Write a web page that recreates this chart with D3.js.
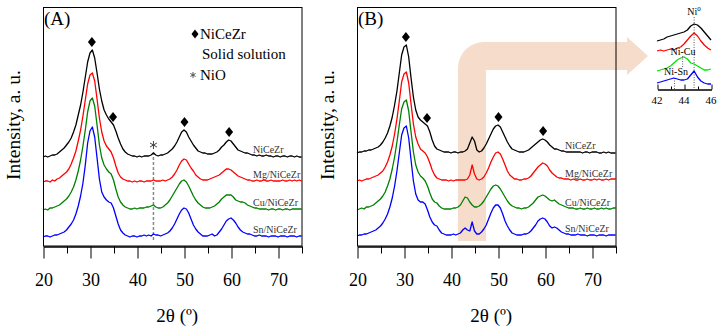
<!DOCTYPE html>
<html lang="en">
<head>
<meta charset="UTF-8">
<title>XRD patterns</title>
<style>
  body { margin: 0; background: #fff; }
  svg { font-family: "Liberation Serif", "Times New Roman", serif; }
  .curve { fill: none; stroke-width: 1.3; stroke-linejoin: round; }
  .frame { fill: none; stroke: #000; stroke-width: 1; }
  .axis path, .axis line { stroke: #000; }
  .axis text { font-family: "Liberation Serif", "Times New Roman", serif; font-size: 18px; fill: #000; }
</style>
</head>
<body>
<div id="chart"></div>
<script src="https://d3js.org/d3.v7.min.js"></script>
<script>
// 2theta sampling of the patterns (20..75, step 0.5)
var twoTheta = d3.range(0, 111).map(function (i) { return 20 + i * 0.5; });

var samples = ["NiCeZr", "Mg/NiCeZr", "Cu/NiCeZr", "Sn/NiCeZr"];
var colors = ["#000000", "#ff0000", "#008000", "#0000ff"];

// stacking offsets (a.u.)
var offsetsA = [89, 64, 36, 9];
var offsetsB = [93, 65, 36, 10];

// (A) fresh catalysts
var niCeZrA = [0,1,0,1,2,2,3,5,7,9, 12,15,19,25,32,42,52,65,80,95, 104,107,99,84,68,56,47,42,38,35,
  32,26,19,13,8,5,3,2,1,1, 0,1,0,1,1,1,2,4,2,1, 2,2,3,4,6,8,11,15,20,25, 27,25,20,16,12,9,6,5,4,4,
  3,3,3,4,5,7,10,12,15,17, 16,13,10,7,6,5,4,4,3,2, 2,1,2,1,1,2,1,1,0,1, 1,0,1,1,0,1,1,0,1,0, 0];
var mgA = [0,1,1,0,2,1,3,4,6,8, 10,13,18,24,31,41,52,66,82,98, 107,109,101,83,64,50,41,36,33,30,
  24,16,9,5,3,2,1,1,0,1, 0,1,1,0,1,1,1,2,1,1, 1,2,1,2,3,5,8,12,17,21, 23,22,18,14,11,7,5,3,2,2,
  2,3,4,5,6,7,9,11,13,13, 12,10,8,6,5,4,3,2,2,1, 1,2,1,1,2,1,1,2,1,1, 1,1,2,1,1,2,1,2,1,2, 1];
var cuA = [0,1,0,2,2,3,4,5,7,9, 11,14,18,23,30,39,50,64,80,98, 109,112,104,85,65,52,45,41,38,36,
  30,21,13,8,5,3,2,1,1,2, 1,2,2,2,3,3,4,5,3,2, 2,3,5,7,10,14,18,22,26,29, 30,28,24,19,14,10,7,5,3,2,
  2,2,3,4,6,8,11,13,15,15, 15,13,10,9,8,8,7,5,4,3, 2,2,1,1,1,1,0,1,1,0, 1,1,0,1,1,0,1,1,1,1, 1];
var snA = [0,1,1,0,1,2,2,3,4,5, 7,10,13,17,23,31,41,54,72,94, 106,110,100,79,58,45,40,37,35,34,
  29,21,13,7,4,2,1,0,1,1, 0,1,1,2,1,2,1,3,2,2, 1,2,3,4,6,9,13,18,23,27, 29,28,24,18,12,8,5,3,1,1,
  1,2,3,1,2,5,8,12,16,18, 19,17,14,10,7,5,4,3,3,2, 1,1,2,1,1,1,0,1,1,1, 0,1,1,1,0,1,1,1,0,1, 1];

// (B) reduced catalysts
var niCeZrB = [0,1,1,2,2,3,3,4,5,6, 8,11,15,20,27,36,48,62,80,98, 106,108,96,75,56,43,36,33,31,29,
  27,21,13,7,4,3,2,1,1,1, 0,1,1,0,1,1,2,4,10,16, 12,3,1,2,5,9,14,19,24,27, 28,26,21,16,11,7,4,3,2,1,
  1,1,2,3,5,7,9,11,13,14, 13,11,8,6,4,4,3,2,2,1, 1,1,1,1,1,1,0,1,1,0, 1,1,1,0,0,1,0,1,0,0, 0];
var mgB = [0,1,0,1,2,2,3,4,5,6, 8,10,14,19,26,35,47,62,80,99, 107,109,98,77,57,44,37,32,30,28,
  24,18,11,6,3,2,1,1,1,0, 1,0,1,1,1,1,1,2,6,16, 7,2,1,2,4,8,13,19,24,28, 29,27,22,16,10,6,4,2,2,1,
  1,2,2,3,5,8,11,14,16,18, 17,15,11,8,6,4,3,3,2,2, 2,1,2,1,1,2,1,1,2,1, 1,2,1,2,1,1,2,1,2,2, 2];
var cuB = [0,1,2,1,3,3,4,5,7,9, 11,14,18,24,31,41,53,68,85,101, 108,110,99,78,58,45,38,34,32,29,
  24,17,11,8,7,4,2,1,1,1, 1,2,2,3,5,9,13,12,8,5, 3,3,4,6,9,13,17,21,24,25, 24,21,17,13,9,6,4,3,2,2,
  1,2,2,3,5,7,10,13,14,15, 14,12,10,9,10,8,6,5,4,3, 2,2,2,1,1,2,1,1,2,1, 1,2,1,1,2,1,2,1,1,2, 2];
var snB = [0,1,1,2,2,3,4,5,6,8, 10,13,17,22,29,38,50,65,83,101, 108,110,98,76,55,42,36,34,34,32,
  26,19,14,11,10,6,3,2,1,1, 1,2,1,2,3,6,8,6,5,14, 5,2,2,4,7,11,17,23,28,31, 31,28,22,15,10,6,3,2,1,1,
  1,2,2,3,5,8,11,15,17,18, 17,14,10,8,9,8,6,4,3,2, 2,1,1,1,2,1,1,1,0,1, 1,1,0,1,1,1,0,1,1,1, 1];

// inset: zoom on 42-46 degrees of (B)
var insetTheta = [42,42.25,42.5,42.75,43,43.25,43.5,43.75,44,44.25,44.5,44.75,45,45.25,45.5,45.75,46];
var insetOffsets = [48, 38, 18, 5];
var insetColors = ["#000000", "#ff0000", "#00e600", "#0000ff"];
var insetSeries = [
  [0,1,2,4,5,6,7,8,9,11,15,17,16,13,9,5,1],
  [0,1,0,1,2,1,3,4,7,11,15,18,15,10,6,3,1],
  [0,1,2,3,5,8,11,13,14,12,8,7,5,3,1,1,2],
  [1,2,3,4,5,6,5,4,4,5,9,13,7,3,1,0,0]
];

// crystalline phase marks
var solidSolutionPeaks = [30.4, 34.9, 50.1, 59.6];
var nioPeak = 43.5;
var xTicks = [20, 30, 40, 50, 60, 70];
var xMinorTicks = [25, 35, 45, 55, 65, 75];

var svg = d3.select("#chart").append("svg")
  .attr("width", 721)
  .attr("height", 330);

var y = d3.scaleLinear().domain([0, 239]).range([246, 7]);

function star(cx, cy, r) {
  var p = "";
  [90, 30, 150].forEach(function (a) {
    var dx = r * Math.cos(a * Math.PI / 180), dy = r * Math.sin(a * Math.PI / 180);
    p += "M" + (cx - dx) + "," + (cy - dy) + "L" + (cx + dx) + "," + (cy + dy);
  });
  return p;
}

function diamond(cx, cy, w, h) {
  return "M" + cx + "," + (cy - h) + "L" + (cx + w) + "," + cy + "L" + cx + "," + (cy + h) + "L" + (cx - w) + "," + cy + "Z";
}

function drawPanel(opt) {
  var x = d3.scaleLinear().domain([20, 75]).range(opt.range);
  var g = svg.append("g");

  if (opt.before) opt.before(g, x);

  var line = function (off) {
    return d3.line()
      .x(function (d, i) { return x(twoTheta[i]); })
      .y(function (d) { return y(d + off); });
  };

  opt.series.forEach(function (s, k) {
    g.append("path")
      .attr("class", "curve")
      .attr("stroke", colors[k])
      .attr("d", line(opt.offsets[k])(s));
    g.append("text")
      .attr("x", opt.labelX)
      .attr("y", y(opt.offsets[k]) - 4)
      .attr("font-size", 10)
      .attr("fill", "#333")
      .text(samples[k]);
  });

  // diamonds above the NiCeZr pattern
  var top = opt.series[0];
  solidSolutionPeaks.forEach(function (t) {
    var i = Math.round((t - 20) / 0.5);
    g.append("path")
      .attr("d", diamond(x(t), y(top[i] + opt.offsets[0]) - 8, 4, 5))
      .attr("fill", "#000");
  });

  g.append("rect")
    .attr("class", "frame")
    .attr("x", x(20) + 0.5)
    .attr("y", 7.5)
    .attr("width", x(75) - x(20))
    .attr("height", 238.5);

  g.append("g")
    .attr("class", "axis")
    .attr("transform", "translate(0.5,246.5)")
    .call(d3.axisBottom(x).tickValues(xTicks).tickSize(12).tickSizeOuter(0).tickPadding(15));
  g.append("g")
    .attr("class", "axis")
    .attr("transform", "translate(0.5,246.5)")
    .call(d3.axisBottom(x).tickValues(xMinorTicks).tickSize(7).tickSizeOuter(0).tickFormat(""));

  g.append("text")
    .attr("x", (opt.range[0] + opt.range[1]) / 2 + 5)
    .attr("y", 322)
    .attr("text-anchor", "middle")
    .attr("font-size", 19)
    .text("2θ (º)");

  g.append("text")
    .attr("transform", "translate(" + (opt.range[0] - 23) + ",125) rotate(-90)")
    .attr("text-anchor", "middle")
    .attr("font-size", 19.5)
    .text("Intensity, a. u.");

  g.append("text")
    .attr("x", opt.range[0] + 1)
    .attr("y", 25)
    .attr("font-size", 19)
    .text(opt.name);

  if (opt.after) opt.after(g, x);
}

drawPanel({
  name: "(A)",
  range: [43, 301.5],
  series: [niCeZrA, mgA, cuA, snA],
  offsets: offsetsA,
  labelX: 253,
  before: function (g, x) {
    g.append("line")
      .attr("x1", x(nioPeak)).attr("x2", x(nioPeak))
      .attr("y1", 152).attr("y2", 242)
      .attr("stroke", "#888")
      .attr("stroke-width", 1.5)
      .attr("stroke-dasharray", "3,2");
  },
  after: function (g, x) {
    var i = Math.round((nioPeak - 20) / 0.5);
    g.append("path")
      .attr("d", star(x(nioPeak), y(niCeZrA[i] + offsetsA[0]) - 8, 4))
      .attr("stroke", "#444")
      .attr("stroke-width", 1);
    // legend
    g.append("path").attr("d", diamond(195, 34, 3.5, 4.5)).attr("fill", "#000");
    g.append("text").attr("x", 200).attr("y", 39).attr("font-size", 15).text("NiCeZr");
    g.append("text").attr("x", 202).attr("y", 59).attr("font-size", 15).text("Solid solution");
    g.append("path").attr("d", star(193, 75, 3)).attr("stroke", "#555").attr("stroke-width", 1);
    g.append("text").attr("x", 200).attr("y", 80).attr("font-size", 15).text("NiO");
  }
});

drawPanel({
  name: "(B)",
  range: [357, 615.5],
  series: [niCeZrB, mgB, cuB, snB],
  offsets: offsetsB,
  labelX: 565,
  before: function (g, x) {
    // bent arrow pointing to the inset
    var r = 26, x0 = 458, x1 = 486, yT = 42, yB = 70, tip = 648, hb = 627;
    var d = "M" + x0 + ",241 L" + x0 + "," + (yT + r) +
      " A" + r + "," + r + " 0 0 1 " + (x0 + r) + "," + yT +
      " L" + hb + "," + yT + " L" + hb + ",37 L" + tip + ",56 L" + hb + ",75 L" + hb + "," + yB +
      " L" + x1 + "," + yB + " L" + x1 + ",241 Z";
    g.append("path").attr("d", d).attr("fill", "#f6ddcb");
  }
});

// inset
var ix = d3.scaleLinear().domain([42, 46]).range([657, 711]);
var iy = d3.scaleLinear().domain([0, 82]).range([89, 7]);
var inset = svg.append("g");

[[44.75, 17, 89], [43.9, 56, 68], [43.3, 78, 89]].forEach(function (m) {
  inset.append("line")
    .attr("x1", ix(m[0])).attr("x2", ix(m[0]))
    .attr("y1", m[1]).attr("y2", m[2])
    .attr("stroke", "#333")
    .attr("stroke-width", 0.8)
    .attr("stroke-dasharray", "1,1.5");
});

insetSeries.forEach(function (s, k) {
  inset.append("path")
    .attr("class", "curve")
    .attr("stroke", insetColors[k])
    .attr("stroke-width", 1.2)
    .attr("d", d3.line()
      .x(function (d, i) { return ix(insetTheta[i]); })
      .y(function (d) { return iy(d + insetOffsets[k]); })(s));
});

inset.append("g")
  .attr("class", "axis")
  .attr("transform", "translate(0.5,89.5)")
  .call(d3.axisTop(ix).tickValues([42, 44, 46]).tickSize(5).tickSizeOuter(0).tickFormat(""));
inset.append("g")
  .attr("class", "axis")
  .attr("transform", "translate(0.5,89.5)")
  .call(d3.axisTop(ix).tickValues([43, 45]).tickSize(3).tickSizeOuter(0).tickFormat(""));
[42, 44, 46].forEach(function (t) {
  inset.append("text")
    .attr("x", ix(t)).attr("y", 104)
    .attr("text-anchor", "middle")
    .attr("font-size", 11)
    .text(t);
});

var ni0 = inset.append("text").attr("x", 694).attr("y", 15).attr("text-anchor", "middle").attr("font-size", 10);
ni0.append("tspan").text("Ni");
ni0.append("tspan").attr("dy", -4).attr("font-size", 7).text("0");
inset.append("text").attr("x", 683).attr("y", 55).attr("text-anchor", "middle").attr("font-size", 10).text("Ni-Cu");
inset.append("text").attr("x", 676).attr("y", 75).attr("text-anchor", "middle").attr("font-size", 10).text("Ni-Sn");
</script>
</body>
</html>
